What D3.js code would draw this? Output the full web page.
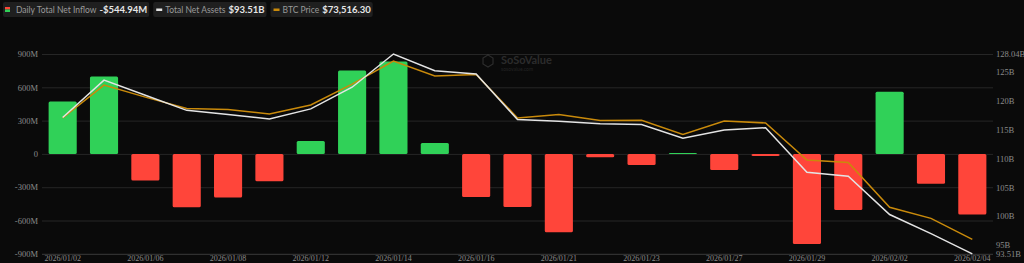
<!DOCTYPE html>
<html>
<head>
<meta charset="utf-8">
<style>
  body { margin: 0; background: #0a0a0a; font-family: "Lato", sans-serif; }
  svg { display: block; }
</style>
</head>
<body>
<script src="https://cdn.jsdelivr.net/npm/d3@7"></script>
<script>
// trading days
var dates = ["2026/01/02","2026/01/05","2026/01/06","2026/01/07","2026/01/08","2026/01/09",
  "2026/01/12","2026/01/13","2026/01/14","2026/01/15","2026/01/16","2026/01/20",
  "2026/01/21","2026/01/22","2026/01/23","2026/01/26","2026/01/27","2026/01/28",
  "2026/01/29","2026/01/30","2026/02/02","2026/02/03","2026/02/04"];

// daily total net inflow, $M
var inflow = [473, 697, -240, -480, -392, -246, 116, 752, 832, 99, -388, -478, -706,
  -30, -100, 9, -144, -19, -812, -505, 560, -268, -544.94];

// total net assets, $B
var assets = [117.06, 123.53, 120.9, 118.3, 117.6, 116.8, 118.55, 122.3, 128.04, 125.14,
  124.57, 116.7, 116.4, 116.0, 115.84, 113.5, 114.9, 115.3, 107.6, 106.9, 100.3, 97.0, 93.51];

// btc price, $
var btc = [89500, 93830, 92250, 90750, 90620, 90040, 91220, 93960, 97000, 95020, 95240,
  89510, 89960, 89160, 89200, 87350, 89110, 88850, 83960, 83650, 77750, 76290, 73516.30];

var leftTicks = [900, 600, 300, 0, -300, -600, -900];
var rightTicks = [128.04, 125, 120, 115, 110, 105, 100, 95, 93.51];

var W = 1024, H = 263;
var green = "#30d158", red = "#ff453a", orange = "#c98a0b", white = "#e4e4e4";

var svg = d3.select("body").append("svg").attr("width", W).attr("height", H);
svg.append("rect").attr("width", W).attr("height", H).attr("fill", "#0a0a0a");

var x = d3.scaleBand().domain(dates).range([42, 993]).paddingInner(0.32).paddingOuter(0.16);
var yL = d3.scaleLinear().domain([-900, 900]).range([253.8, 54]);
var yR = d3.scaleLinear().domain([93.51, 128.04]).range([253.8, 54]);
var yB = d3.scaleLinear().domain([71626, 97926]).range([253.8, 54]);

// grid + left axis
var gl = svg.append("g").attr("transform", "translate(42,0)")
  .call(d3.axisLeft(yL).tickValues(leftTicks).tickSize(-951).tickPadding(4)
    .tickFormat(function(d){ return d === 0 ? "0" : d + "M"; }));
gl.select(".domain").remove();
gl.selectAll(".tick line").attr("stroke", function(d){ return d === -900 ? "#3a3a3a" : "#262626"; });
gl.selectAll(".tick text").attr("fill", "#8a8a8a").style("font-family", "Liberation Serif").style("font-size", "8.5px");

// right axis (labels only)
var gr = svg.append("g").attr("transform", "translate(993,0)")
  .call(d3.axisRight(yR).tickValues(rightTicks).tickSize(0).tickPadding(3)
    .tickFormat(function(d){ return d + "B"; }));
gr.select(".domain").remove();
gr.selectAll(".tick text").attr("fill", "#8a8a8a").style("font-family", "Liberation Serif").style("font-size", "8.5px");

// x axis labels, every other day
var gx = svg.append("g").attr("transform", "translate(0,253)")
  .call(d3.axisBottom(x).tickValues(dates.filter(function(d, i){ return i % 2 === 0; }))
    .tickSize(0).tickPadding(2));
gx.select(".domain").remove();
gx.selectAll(".tick text").attr("fill", "#8a8a8a").style("font-family", "Liberation Serif").style("font-size", "8px");

// watermark
var wm = svg.append("g").attr("transform", "translate(483,55)").attr("opacity", 0.45);
wm.append("path").attr("d", "M5,0 L10,3 L10,9 L5,12 L0,9 L0,3 Z")
  .attr("fill", "none").attr("stroke", "#555").attr("stroke-width", 1.2);
wm.append("text").attr("x", 18).attr("y", 9).attr("fill", "#555")
  .style("font-size", "11px").style("font-weight", "bold").text("SoSoValue");
wm.append("text").attr("x", 18).attr("y", 16).attr("fill", "#444")
  .style("font-size", "5px").text("sosovalue.com");

// bars
svg.selectAll(".bar").data(inflow).enter().append("rect")
  .attr("class", "bar")
  .attr("x", function(d, i){ return x(dates[i]); })
  .attr("width", x.bandwidth())
  .attr("y", function(d){ return d >= 0 ? yL(d) : yL(0); })
  .attr("height", function(d){ return Math.max(1, Math.abs(yL(d) - yL(0))); })
  .attr("rx", 1.5)
  .attr("fill", function(d){ return d >= 0 ? green : red; });

function cx(i){ return x(dates[i]) + x.bandwidth() / 2; }

svg.append("path").datum(btc)
  .attr("fill", "none").attr("stroke", orange).attr("stroke-width", 1.5)
  .attr("d", d3.line().x(function(d, i){ return cx(i); }).y(function(d){ return yB(d); }));

svg.append("path").datum(assets)
  .attr("fill", "none").attr("stroke", white).attr("stroke-width", 1.5)
  .attr("d", d3.line().x(function(d, i){ return cx(i); }).y(function(d){ return yR(d); }));

// legend header
var legend = [
  { label: "Daily Total Net Inflow", value: "-$544.94M", icon: "split" },
  { label: "Total Net Assets", value: "$93.51B", icon: white },
  { label: "BTC Price", value: "$73,516.30", icon: orange }
];
var lx = 3;
legend.forEach(function(l){
  var g = svg.append("g").attr("transform", "translate(" + lx + ",2)");
  var bg = g.append("rect").attr("height", 15).attr("rx", 2).attr("fill", "#1f1f1f");
  var tx = 2;
  if (l.icon === "split") {
    g.append("rect").attr("x", tx).attr("y", 5).attr("width", 5).attr("height", 2.5).attr("fill", red);
    g.append("rect").attr("x", tx).attr("y", 7.5).attr("width", 5).attr("height", 2.5).attr("fill", green);
    tx += 11;
  } else {
    g.append("rect").attr("x", tx + 1).attr("y", 6.5).attr("width", 6).attr("height", 2.5).attr("fill", l.icon);
    tx += 10;
  }
  var t1 = g.append("text").attr("x", tx).attr("y", 10.5).attr("fill", "#9a9a9a")
    .style("font-size", "8.5px").text(l.label);
  tx += t1.node().getComputedTextLength() + 3;
  var t2 = g.append("text").attr("x", tx).attr("y", 11).attr("fill", "#e6e6e6")
    .style("font-size", "9.5px").style("font-weight", "bold").text(l.value);
  tx += t2.node().getComputedTextLength() + 2;
  bg.attr("width", tx);
  lx += tx + 4;
});
</script>
</body>
</html>
